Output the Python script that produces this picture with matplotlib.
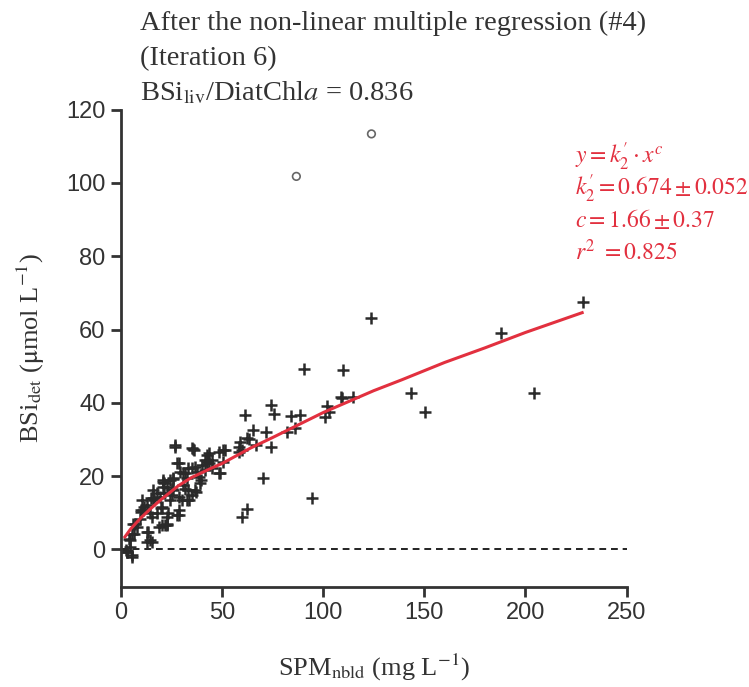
import matplotlib
matplotlib.use("Agg")
import matplotlib.pyplot as plt

# Observations: SPM_nbld (mg/L) vs BSi_det (umol/L)
spm = [
    2.6, 3.0, 3.1, 4.0, 4.6, 4.8, 5.4, 5.4, 5.6, 6.3, 6.4, 7.1, 8.1, 9.6, 9.8,
    10.0, 10.4, 11.2, 11.4, 12.9, 13.0, 13.0, 13.7, 14.5, 14.7, 15.0, 15.3, 15.3,
    16.2, 16.2, 16.3, 17.8, 17.8, 18.8, 19.5, 19.7, 20.3, 20.3, 20.8, 21.1, 21.1,
    21.3, 21.3, 21.9, 22.8, 22.8, 22.9, 22.9, 23.6, 24.4, 24.4, 25.2, 25.4, 25.7,
    26.1, 26.1, 26.6, 26.9, 27.7, 27.7, 28.6, 28.6, 28.6, 28.6, 29.4, 30.2, 31.0,
    31.0, 31.8, 31.8, 32.7, 32.7, 33.5, 33.5, 33.8, 35.1, 35.1, 35.1, 35.5, 36.4,
    36.8, 36.8, 37.3, 37.6, 38.5, 39.3, 39.5, 40.1, 41.7, 41.7, 42.6, 42.6, 43.4,
    43.4, 45.0, 45.0, 48.4, 48.4, 49.2, 50.8, 50.8, 51.6, 58.3, 58.6, 59.1, 59.9,
    59.9, 61.5, 62.4, 62.4, 63.2, 65.3, 66.8, 70.3, 71.9, 74.3, 74.4, 75.6, 82.2,
    84.3, 86.3, 88.8, 90.4, 94.6, 100.8, 102.0, 103.1, 109.1, 109.4, 109.7, 114.9,
    123.8, 143.2, 150.3, 188.1, 204.3, 228.2,
]
bsi = [
    -0.3, -0.7, -0.7, 2.9, 2.5, 0.6, 4.3, -2.1, -1.6, 7.0, 4.3, 7.0, 6.1, 8.4, 10.2,
    10.7, 13.4, 10.7, 11.6, 12.1, 4.7, 2.0, 4.7, 2.5, 9.8, 13.9, 8.8, 2.0,
    13.9, 16.2, 13.4, 9.8, 15.3, 6.1, 14.3, 11.2, 6.6, 11.6, 18.4, 18.9, 17.1,
    18.0, 15.3, 6.6, 6.6, 17.1, 8.8, 7.0, 9.8, 13.4, 18.9, 16.6, 14.8, 19.1,
    19.4, 16.2, 28.5, 28.0, 23.5, 9.3, 23.6, 9.3, 14.3, 10.7, 21.2, 13.4, 20.7,
    17.5, 20.7, 16.6, 19.4, 13.4, 22.1, 16.2, 13.4, 27.6, 22.1, 14.8, 27.3, 27.0,
    22.5, 16.2, 15.7, 21.2, 19.8, 18.0, 18.9, 23.0, 24.4, 21.6, 25.8, 23.9, 26.2,
    23.6, 22.1, 24.4, 26.7, 20.7, 20.7, 27.1, 23.9, 27.1, 28.0, 26.7, 29.4, 27.1,
    8.8, 36.7, 30.3, 10.9, 30.0, 32.6, 28.5, 19.4, 32.1, 39.5, 28.0, 36.9, 31.9,
    36.5, 33.2, 36.7, 49.2, 13.9, 36.1, 39.2, 37.6, 41.6, 41.3, 49.0, 41.7,
    63.2, 42.8, 37.4, 59.1, 42.8, 67.5,
]

# Points excluded from the fit
out_spm = [86.8, 123.9]
out_bsi = [101.8, 113.4]

# Fitted regression curve
fit_spm = [2.1, 5, 10, 15, 20, 28.6, 35, 45, 50, 64, 75, 100.3, 125, 139, 160, 180, 200, 228]
fit_bsi = [3.4, 5.6, 8.6, 11.2, 13.6, 17.4, 19.6, 22.2, 23.4, 27.6, 30.5, 37.4, 43.3, 46.3, 51.0, 55.0, 59.2, 64.6]

RED = "#e2303f"
DARK = "#333333"
SERIF = "Liberation Serif"
W, H = 749, 687

plt.rcParams["mathtext.fontset"] = "stix"

fig = plt.figure(figsize=(W / 100, H / 100), dpi=100)
ax = fig.add_axes([0.1611, 0.146, 0.6756, 0.6943])

ax.axhline(0, color="#222222", lw=1.4, ls=(0, (3.5, 2.5)), zorder=1)
ax.plot(fit_spm, fit_bsi, color=RED, lw=2.2, zorder=3)
ax.scatter(spm, bsi, marker="+", s=70, color="#2a2a2a", linewidths=1.8, zorder=2)
ax.scatter(out_spm, out_bsi, marker="o", s=30, facecolors="none",
           edgecolors="#666666", linewidths=1.2, zorder=2)

ax.set_xlim(0, 250)
ax.set_ylim(-10.2, 120)
ax.set_xticks([0, 50, 100, 150, 200, 250])
ax.set_yticks([0, 20, 40, 60, 80, 100, 120])
for s in ["top", "right"]:
    ax.spines[s].set_visible(False)
for s in ["left", "bottom"]:
    ax.spines[s].set_color(DARK)
    ax.spines[s].set_linewidth(2.0)
ax.tick_params(axis="both", direction="out", length=7, width=2.0, color=DARK,
               labelcolor=DARK, labelsize=17, pad=4)
for lab in ax.get_xticklabels() + ax.get_yticklabels():
    lab.set_fontfamily("Liberation Sans")

ax.set_xlabel(r"SPM$_{\mathrm{nbld}}$ (mg L$^{\mathrm{-1}}$)", fontsize=19,
              fontfamily=SERIF, color=DARK, labelpad=20)
ax.set_ylabel(r"BSi$_{\mathrm{det}}$ ($\mathrm{\mu}$mol L$^{\mathrm{-1}}$)", fontsize=19,
              fontfamily=SERIF, color=DARK, labelpad=14)

title_lines = [
    "After the non-linear multiple regression (#4)",
    "(Iteration 6)",
    r"BSi$_{\mathrm{liv}}$/DiatChl$a$ = 0.836",
]
for txt, yb in zip(title_lines, [30, 65, 100]):
    fig.text(140 / W, 1 - yb / H, txt, fontsize=20.5, fontfamily=SERIF,
             color=DARK, va="baseline")

eq_lines = [
    r"$y = k_2' \cdot x^{c}$",
    r"$k_2' = 0.674 \pm 0.052$",
    r"$c = 1.66 \pm 0.37$",
    r"$r^{2}\ = 0.825$",
]
for txt, yb in zip(eq_lines, [164, 196, 227, 260]):
    fig.text(575 / W, 1 - yb / H, txt, fontsize=17, color=RED, va="baseline")

fig.savefig("out.png", dpi=100)
